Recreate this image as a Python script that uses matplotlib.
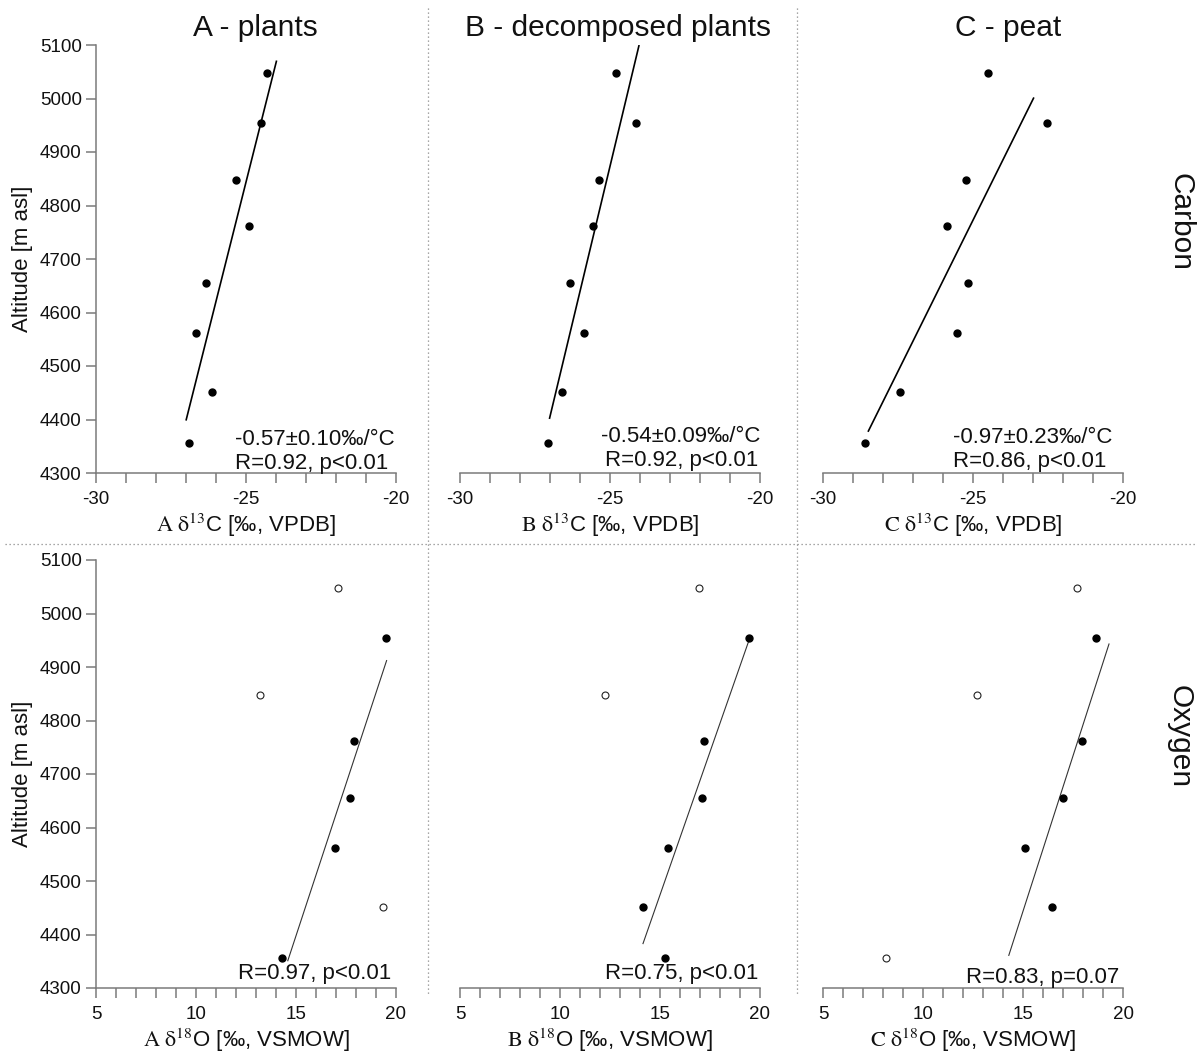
import matplotlib
matplotlib.use("Agg")
import matplotlib.pyplot as plt
from matplotlib.ticker import MultipleLocator
from matplotlib.lines import Line2D

plt.rcParams['font.family'] = ['Liberation Sans', 'DejaVu Sans']
plt.rcParams['mathtext.fontset'] = 'stix'
plt.rcParams['axes.unicode_minus'] = False

# ---------------- data ----------------
altitude = [5048, 4955, 4848, 4762, 4655, 4562, 4452, 4356]

carbon_A = [-24.30, -24.50, -25.33, -24.91, -26.32, -26.66, -26.12, -26.89]
carbon_B = [-24.81, -24.14, -25.38, -25.55, -26.33, -25.87, -26.59, -27.07]
carbon_C = [-24.49, -22.54, -25.23, -25.86, -25.16, -25.55, -27.43, -28.60]

oxygen_A = [17.08, 19.50, 13.18, 17.89, 17.68, 16.96, 19.36, 14.30]
oxygen_B = [16.93, 19.45, 12.25, 17.21, 17.09, 15.39, 14.17, 15.26]
oxygen_C = [17.69, 18.63, 12.70, 17.96, 16.99, 15.09, 16.44, 8.16]

excluded_A = [True, False, True, False, False, False, True, False]
excluded_B = [True, False, True, False, False, False, False, False]
excluded_C = [True, False, True, False, False, False, False, True]

fit_carbon_A_x = [-27.00, -23.98]
fit_carbon_A_y = [4398, 5071]
fit_carbon_B_x = [-27.02, -24.03]
fit_carbon_B_y = [4401, 5100]
fit_carbon_C_x = [-28.50, -22.97]
fit_carbon_C_y = [4377, 5002]

fit_oxygen_A_x = [14.59, 19.53]
fit_oxygen_A_y = [4351, 4912]
fit_oxygen_B_x = [14.15, 19.45]
fit_oxygen_B_y = [4383, 4950]
fit_oxygen_C_x = [14.29, 19.30]
fit_oxygen_C_y = [4361, 4943]

column_titles = ["A - plants", "B - decomposed plants", "C - peat"]
column_letters = ["A", "B", "C"]
row_labels = ["Carbon", "Oxygen"]
carbon_slope = ["-0.57±0.10‰/°C", "-0.54±0.09‰/°C", "-0.97±0.23‰/°C"]
carbon_stats = ["R=0.92, p<0.01", "R=0.92, p<0.01", "R=0.86, p<0.01"]
oxygen_stats = ["R=0.97, p<0.01", "R=0.75, p<0.01", "R=0.83, p=0.07"]

# ---------------- figure ----------------
W, H = 1200, 1054
fig = plt.figure(figsize=(W / 100, H / 100), dpi=100)

lefts = [96, 460, 823]
ax_w = 300
top_rows = [45, 560]
ax_h = 428

spine_col = '#7a7a7a'
text_col = '#111111'

def make_ax(col, row):
    l = lefts[col] / W
    b = 1 - (top_rows[row] + ax_h) / H
    ax = fig.add_axes([l, b, ax_w / W, ax_h / H])
    ax.set_ylim(4300, 5100)
    for s in ['top', 'right']:
        ax.spines[s].set_visible(False)
    for s in ['left', 'bottom']:
        ax.spines[s].set_color(spine_col)
        ax.spines[s].set_linewidth(1.1)
    ax.tick_params(axis='both', which='both', direction='out', length=7.2,
                   width=1.1, color=spine_col, labelsize=13.5, labelcolor=text_col)
    ax.tick_params(axis='x', which='both', pad=6)
    ax.tick_params(axis='y', which='both', pad=3)
    ax.yaxis.set_major_locator(MultipleLocator(100))
    if col == 0:
        ax.set_ylabel("Altitude [m asl]", fontsize=16, color=text_col, labelpad=5)
    else:
        ax.spines['left'].set_visible(False)
        ax.tick_params(axis='y', which='both', left=False, labelleft=False)
    ax.patch.set_alpha(0)
    return ax

carbon_series = [carbon_A, carbon_B, carbon_C]
oxygen_series = [oxygen_A, oxygen_B, oxygen_C]
excluded = [excluded_A, excluded_B, excluded_C]
fit_c = [(fit_carbon_A_x, fit_carbon_A_y), (fit_carbon_B_x, fit_carbon_B_y),
         (fit_carbon_C_x, fit_carbon_C_y)]
fit_o = [(fit_oxygen_A_x, fit_oxygen_A_y), (fit_oxygen_B_x, fit_oxygen_B_y),
         (fit_oxygen_C_x, fit_oxygen_C_y)]

# annotation positions (axes fraction): (x_line1, y_line1, x_line2, y_line2)
c_ann_pos = [(0.464, 0.066, 0.464, 0.009), (0.469, 0.073, 0.482, 0.016),
             (0.434, 0.070, 0.434, 0.013)]
o_ann_pos = [(0.474, 0.020), (0.482, 0.022), (0.477, 0.012)]

for i in range(3):
    # carbon row
    ax = make_ax(i, 0)
    ax.set_xlim(-30, -20)
    ax.xaxis.set_major_locator(MultipleLocator(5))
    ax.xaxis.set_minor_locator(MultipleLocator(1))
    fx, fy = fit_c[i]
    ax.plot(fx, fy, color='black', lw=1.2, solid_capstyle='butt', zorder=2)
    ax.plot(carbon_series[i], altitude, 'o', color='black', ms=5, mec='black',
            zorder=3, clip_on=False)
    ax.set_xlabel(r"$\mathrm{%s\ \delta^{13}}$C [‰, VPDB]" % column_letters[i],
                  fontsize=16, color=text_col, labelpad=2)
    x1, y1, x2, y2 = c_ann_pos[i]
    ax.text(x1, y1, carbon_slope[i], transform=ax.transAxes, fontsize=16,
            ha='left', va='baseline', color=text_col)
    ax.text(x2, y2, carbon_stats[i], transform=ax.transAxes, fontsize=16,
            ha='left', va='baseline', color=text_col)

    # oxygen row
    ax = make_ax(i, 1)
    ax.set_xlim(5, 20)
    ax.xaxis.set_major_locator(MultipleLocator(5))
    ax.xaxis.set_minor_locator(MultipleLocator(1))
    fx, fy = fit_o[i]
    ax.plot(fx, fy, color='#333333', lw=0.8, zorder=2)
    xo = [x for x, e in zip(oxygen_series[i], excluded[i]) if not e]
    yo = [y for y, e in zip(altitude, excluded[i]) if not e]
    xe = [x for x, e in zip(oxygen_series[i], excluded[i]) if e]
    ye = [y for y, e in zip(altitude, excluded[i]) if e]
    ax.plot(xo, yo, 'o', color='black', ms=5, zorder=3, clip_on=False)
    ax.plot(xe, ye, 'o', mfc='white', mec='#222222', mew=0.8, ms=5, zorder=3,
            clip_on=False)
    ax.set_xlabel(r"$\mathrm{%s\ \delta^{18}}$O [‰, VSMOW]" % column_letters[i],
                  fontsize=16, color=text_col, labelpad=2)
    xa, ya = o_ann_pos[i]
    ax.text(xa, ya, oxygen_stats[i], transform=ax.transAxes, fontsize=16,
            ha='left', va='baseline', color=text_col)

# column titles
title_x = [255, 618, 1008]
for tx, t in zip(title_x, column_titles):
    fig.text(tx / W, 1 - 36 / H, t, fontsize=21.5, ha='center', va='baseline',
             color=text_col)

# row labels
fig.text(1180 / W, 1 - 222 / H, row_labels[0], fontsize=21.5, rotation=270,
         ha='center', va='center', color=text_col)
fig.text(1180 / W, 1 - 737 / H, row_labels[1], fontsize=21.5, rotation=270,
         ha='center', va='center', color=text_col)

# dotted separators
sep_kw = dict(color='#8a8a8a', lw=0.9, linestyle=(0, (1, 2.2)))
fig.add_artist(Line2D([428 / W, 428 / W], [1 - 8 / H, 1 - 995 / H],
                      transform=fig.transFigure, **sep_kw))
fig.add_artist(Line2D([797 / W, 797 / W], [1 - 8 / H, 1 - 995 / H],
                      transform=fig.transFigure, **sep_kw))
fig.add_artist(Line2D([5 / W, 1195 / W], [1 - 544 / H, 1 - 544 / H],
                      transform=fig.transFigure, **sep_kw))

fig.savefig("out.png", dpi=100, facecolor='white')
